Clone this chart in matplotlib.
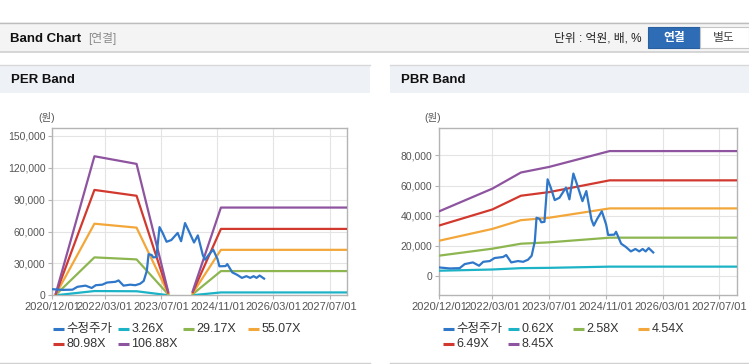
import numpy as np
import pandas as pd
import matplotlib
matplotlib.use("Agg")
import matplotlib.pyplot as plt
from matplotlib.patches import Rectangle
from matplotlib.lines import Line2D
from matplotlib.ticker import FuncFormatter

plt.rcParams['font.family'] = ['Liberation Sans', 'Noto Sans CJK KR']

# adjusted share price (same series on both charts)
price_dates = ["2020-12-07", "2021-03-01", "2021-05-25", "2021-07-07", "2021-09-15",
               "2021-11-07", "2021-12-13", "2022-02-07", "2022-03-20", "2022-06-01",
               "2022-06-28", "2022-08-10", "2022-10-07", "2022-11-20", "2023-01-01",
               "2023-02-01", "2023-02-28", "2023-03-15", "2023-04-10", "2023-04-25",
               "2023-05-22", "2023-06-18", "2023-07-15", "2023-08-18", "2023-09-28",
               "2023-10-25", "2023-11-22", "2023-12-22", "2024-01-25", "2024-03-01",
               "2024-04-12", "2024-05-15", "2024-06-28", "2024-07-18", "2024-08-15",
               "2024-09-25", "2024-11-01", "2024-11-18", "2025-01-10", "2025-01-25",
               "2025-03-10", "2025-04-20", "2025-06-01", "2025-07-10", "2025-08-12",
               "2025-09-10", "2025-10-06", "2025-11-01", "2025-12-10"]
price = [5700, 5100, 5300, 8000, 9100,
         6900, 9500, 10000, 12000, 12700,
         14000, 9100, 10000, 9500, 10900,
         13500, 23000, 38700, 38000, 35700,
         36000, 64200, 58700, 50400, 52000,
         55300, 58700, 50900, 68000, 59700,
         49700, 56400, 37500, 33500, 37800,
         43000, 34200, 27300, 27500, 29400,
         21500, 19300, 16400, 18000, 16400,
         18000, 16400, 18600, 15700]

# PER band
per_dates = ["2021-01-01", "2021-12-01", "2022-12-01", "2023-09-01",
             "2024-01-01", "2024-04-01", "2024-12-01", "2027-12-01"]
per_326 = [60, 4000, 3800, 110, np.nan, 120, 2700, 2700]
per_2917 = [550, 35700, 33800, 950, np.nan, 1100, 22800, 22800]
per_5507 = [1000, 67400, 63700, 1800, np.nan, 2100, 42800, 42800]
per_8098 = [1500, 99200, 93700, 2600, np.nan, 3000, 62500, 62500]
per_10688 = [2000, 130900, 123700, 3500, np.nan, 4000, 82600, 82600]
per_labels = ["수정주가", "3.26X", "29.17X", "55.07X", "80.98X", "106.88X"]

# PBR band
pbr_dates = ["2020-12-01", "2022-03-01", "2022-11-01", "2023-07-01", "2024-12-01", "2027-12-01"]
pbr_062 = [3600, 4400, 5300, 5500, 6300, 6300]
pbr_258 = [13600, 18200, 21500, 22400, 25500, 25500]
pbr_454 = [23500, 31300, 37100, 38700, 44900, 44900]
pbr_649 = [33600, 44200, 53300, 55700, 63500, 63500]
pbr_845 = [43000, 58000, 68700, 72400, 82900, 82900]
pbr_labels = ["수정주가", "0.62X", "2.58X", "4.54X", "6.49X", "8.45X"]

xtick_dates = ["2020-12-01", "2022-03-01", "2023-07-01", "2024-11-01", "2026-03-01", "2027-07-01"]
colors = ["#2f77c9", "#1db3c6", "#8db651", "#f3a73a", "#d2392e", "#8e549f"]

W, H = 749, 364
fig = plt.figure(figsize=(W / 100, H / 100), dpi=100)
fig.patch.set_facecolor("white")


def fx(x):
    return x / W


def fy(y):
    return 1 - y / H


def rect(x0, y0, x1, y1, fc, ec="none", lw=0):
    fig.add_artist(Rectangle((fx(x0), fy(y1)), fx(x1 - x0), (y1 - y0) / H,
                             transform=fig.transFigure, fc=fc, ec=ec, lw=lw))


def hline(x0, x1, y, color, lw=1):
    fig.add_artist(Line2D([fx(x0), fx(x1)], [fy(y), fy(y)], transform=fig.transFigure,
                          color=color, lw=lw))


# top header bar
rect(0, 22, W, 52, "#f4f4f4")
hline(0, W, 22.5, "#bdbdbd")
hline(0, W, 52, "#cfcfcf", 1.2)
fig.text(fx(10), fy(38.5), "Band Chart", fontsize=9.5, fontweight="bold", color="#111", va="center")
fig.text(fx(88), fy(38.5), "[연결]", fontsize=8.5, color="#8a8a8a", va="center")
fig.text(fx(642), fy(38.5), "단위 : 억원, 배, %", fontsize=8.5, color="#222", va="center", ha="right")
rect(648, 27, 699.5, 48, "#2e6cb5", "#2a609f", 0.8)
rect(699.5, 27, 748.5, 48, "white", "#c6c6c6", 0.8)
fig.text(fx(674), fy(37.5), "연결", fontsize=8.5, fontweight="bold", color="white", ha="center", va="center")
fig.text(fx(724), fy(37.5), "별도", fontsize=8.5, color="#444", ha="center", va="center")

# panel headers
for x0, x1, title in [(0, 370, "PER Band"), (390, W, "PBR Band")]:
    rect(x0, 65, x1, 92.7, "#eef1f6")
    hline(x0, x1, 65, "#d8d8d8")
    hline(x0, x1, 363, "#d0d0d0")
    fig.text(fx(x0 + 11), fy(80), title, fontsize=9.5, fontweight="bold", color="#111", va="center")

xt = pd.to_datetime(xtick_dates)


def draw_panel(box, ylim, yticks, band_dates, bands, labels, unit_x, legend_x):
    x0, y0, x1, y1 = box
    ax = fig.add_axes([fx(x0), fy(y1), fx(x1 - x0), (y1 - y0) / H])
    ax.set_facecolor("white")
    bd = pd.to_datetime(band_dates)
    handles = [ax.plot(pd.to_datetime(price_dates), price, color=colors[0], lw=1.6, zorder=5)[0]]
    for i, b in enumerate(bands):
        handles.append(ax.plot(bd, b, color=colors[i + 1], lw=1.6, zorder=4)[0])
    ax.set_xlim(pd.Timestamp("2020-12-01"), pd.Timestamp("2027-12-01"))
    ax.set_ylim(*ylim)
    ax.set_xticks(xt)
    ax.set_xticklabels([d.strftime("%Y/%m/%d") for d in xt], fontsize=8)
    ax.set_yticks(yticks)
    ax.yaxis.set_major_formatter(FuncFormatter(lambda v, p: f"{int(v):,}"))
    ax.grid(True, color="#e4e4e4", lw=0.8)
    ax.set_axisbelow(True)
    for s in ax.spines.values():
        s.set_color("#b4b4b4")
        s.set_linewidth(1)
    ax.tick_params(colors="#b4b4b4", labelcolor="#555", labelsize=7.5, length=3, width=0.8, pad=2)
    ax.tick_params(axis="x", labelsize=8)
    fig.text(fx(unit_x), fy(118), "(원)", fontsize=7.5, color="#555", ha="center", va="center")
    # legend, row-wise like the original
    for i, (h, lab) in enumerate(zip(handles, labels)):
        lx = legend_x + 65 * (i % 4)
        ly = 329 if i < 4 else 344
        fig.add_artist(Line2D([fx(lx), fx(lx + 11)], [fy(ly), fy(ly)], transform=fig.transFigure,
                              color=h.get_color(), lw=2.2, solid_capstyle="butt"))
        fig.text(fx(lx + 13.5), fy(ly), lab, fontsize=9, color="#333", va="center")
    return ax


draw_panel((52.3, 128, 347.3, 295.3), (0, 157500), range(0, 150001, 30000),
           per_dates, [per_326, per_2917, per_5507, per_8098, per_10688], per_labels, 47, 53)
draw_panel((439.3, 128.3, 737.3, 295.3), (-12700, 98000), range(0, 80001, 20000),
           pbr_dates, [pbr_062, pbr_258, pbr_454, pbr_649, pbr_845], pbr_labels, 433, 443)

fig.savefig("out.png", dpi=100)
